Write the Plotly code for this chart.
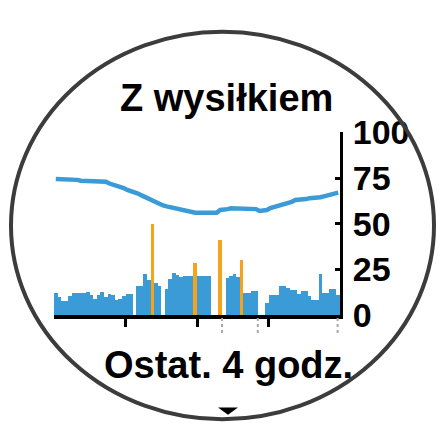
import plotly.graph_objects as go

# ---- data ----
minutes = [1.5 + 3 * i for i in range(80)]
effort_bars = [12, 10, 8, 8, 10.5, 12, 12, 12, 12, 12.5,
               11, 9, 11, 12.5, 10, 11.5, 11, 8.5, 9, 10.5,
               11.5, 11.5, 0, 16, 16, 22.7, 19, 0, 17.5, 15.8,
               0, 14.5, 20, 23, 22, 21, 21.5, 21.5, 21.5, 0,
               21.5, 21.5, 21.5, 21.5, 0, 0, 0, 0, 20.5, 21.5,
               22.5, 21, 0, 12, 12, 13, 13, 0, 0, 6.7,
               10.8, 10.8, 11, 16, 16, 15, 14, 14, 11.5, 13,
               13, 10.5, 8.5, 8.5, 22.5, 12, 12, 14.5, 14.5, 11]
peak_minutes = [82.5, 118.5, 139.5, 157.5]
peak_values = [50, 28.5, 41, 30]
level_line = [74.5, 74.5, 74.5, 74.5, 74, 74, 74, 73.5, 73.5, 73.5,
              73.5, 73.5, 73.5, 73.5, 73, 72, 71.5, 71, 70.5, 69.5,
              68.5, 68, 67.5, 66.5, 65.5, 64.5, 63.5, 62.5, 61.5, 60.5,
              60, 59.5, 59, 58.5, 58.5, 58, 57.5, 57, 56.5, 56,
              56, 56, 56, 56, 56, 56, 57.5, 57.5, 58, 58.5,
              58.5, 58.5, 58, 58, 58.5, 58.5, 58, 57, 57, 57.5,
              58.5, 59, 59.5, 60.5, 61, 61.5, 62, 63, 63, 63.5,
              63.5, 64, 64, 64.5, 64.5, 65, 65.5, 66, 66.5, 67]
y_ticks = [0, 25, 50, 75, 100]
hour_ticks = [60, 120, 180]
gap_marks = [141, 171, 238]

title_text = "Z wysiłkiem"
footer_text = "Ostat. 4 godz."

BLUE = "#3a9bd6"
ORANGE = "#f7a21b"
FONT = "Liberation Sans"

W, H = 438, 442
def px(x):
    return x / W
def py(y):
    return 1 - y / H

fig = go.Figure()
fig.add_trace(go.Bar(x=minutes, y=effort_bars, width=3, marker=dict(color=BLUE, line=dict(width=0)),
                     showlegend=False, hoverinfo="skip"))
fig.add_trace(go.Bar(x=peak_minutes, y=peak_values, width=3, marker=dict(color=ORANGE, line=dict(width=0)),
                     showlegend=False, hoverinfo="skip"))
fig.add_trace(go.Scatter(x=minutes, y=level_line, mode="lines",
                         line=dict(color=BLUE, width=4.5), showlegend=False, hoverinfo="skip"))

fig.update_layout(
    width=W, height=H, margin=dict(l=0, r=0, t=0, b=0),
    paper_bgcolor="white", plot_bgcolor="white",
    barmode="overlay", bargap=0,
    xaxis=dict(domain=[px(54), px(340)], range=[0, 240], showgrid=False, zeroline=False,
               showline=True, linecolor="black", linewidth=4,
               tickvals=hour_ticks, ticks="outside", ticklen=8, tickwidth=3, tickcolor="black",
               showticklabels=False),
    yaxis=dict(domain=[py(324), py(124)], range=[0, 100], side="right", showgrid=False, zeroline=False,
               showline=True, linecolor="black", linewidth=3,
               tickvals=y_ticks, ticktext=[str(v) for v in y_ticks],
               ticks="inside", ticklen=5, tickwidth=3, tickcolor="black",
               ticklabelstandoff=3,
               tickfont=dict(family=FONT, size=34, color="black", weight="bold")),
)

for g in gap_marks:
    fig.add_shape(type="line", xref="x", yref="paper", x0=g, x1=g, y0=py(327), y1=py(346),
                  line=dict(color="#a8a8a8", width=2, dash="dot"))

fig.add_annotation(text=title_text, xref="paper", yref="paper", x=px(226), y=py(86),
                   xanchor="center", yanchor="middle", showarrow=False,
                   font=dict(family=FONT, size=38, color="black", weight="bold"))
fig.add_annotation(text=footer_text, xref="paper", yref="paper", x=px(228), y=py(379),
                   xanchor="center", yanchor="middle", showarrow=False,
                   font=dict(family=FONT, size=38, color="black", weight="bold"))

# watch face outline
fig.add_shape(type="circle", xref="paper", yref="paper",
              x0=px(11), x1=px(434), y0=py(438), y1=py(14),
              line=dict(color="#3c3c3c", width=4))
# scroll arrow
fig.add_shape(type="path", xref="paper", yref="paper",
              path=f"M {px(218)} {py(425)} L {px(238)} {py(425)} L {px(228)} {py(433)} Z",
              fillcolor="black", line=dict(width=0))

fig.write_html("out.html", config={"displayModeBar": False, "staticPlot": True},
               post_script="document.body.style.margin='0';document.body.style.overflow='hidden';")
